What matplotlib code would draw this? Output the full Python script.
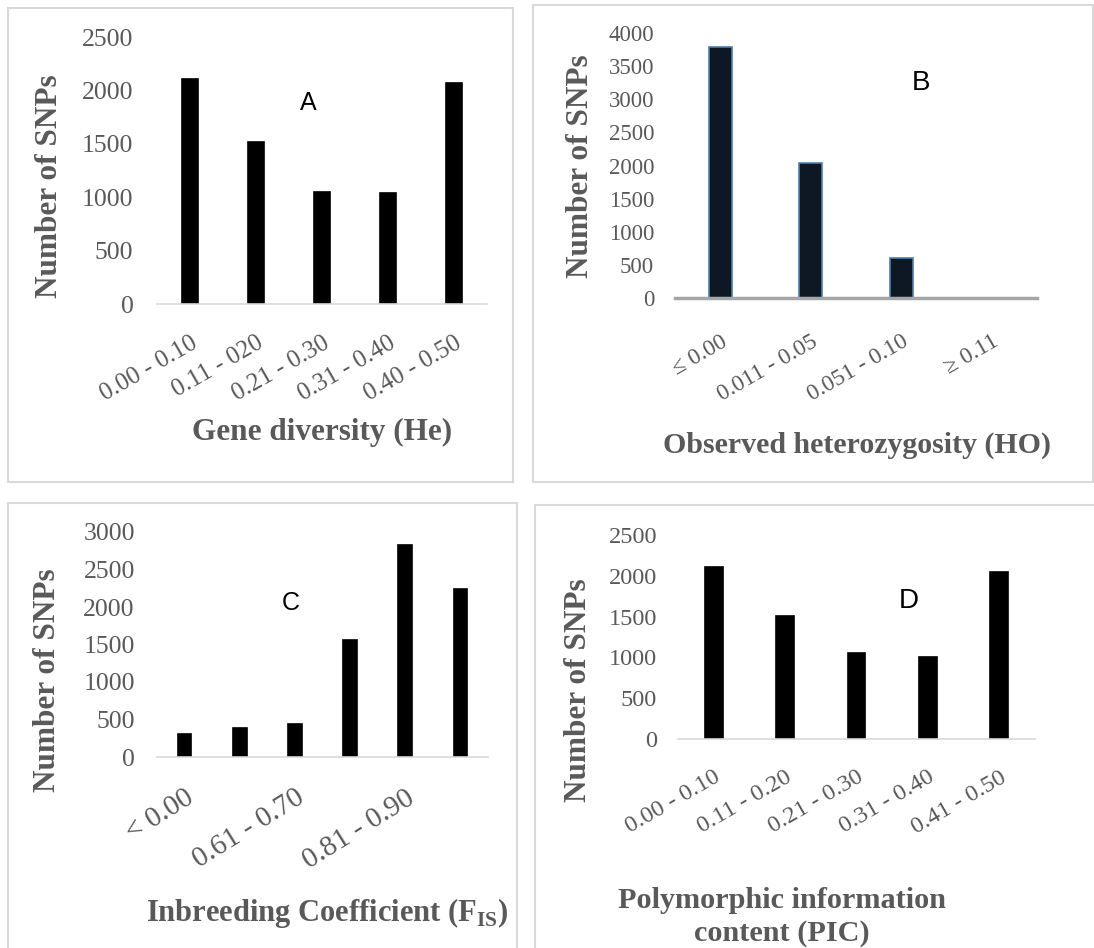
import matplotlib.pyplot as plt
from matplotlib.patches import Rectangle

W, H = 1094, 948

# A - gene diversity (He)
he_bins = ["0.00 - 0.10", "0.11 - 020", "0.21 - 0.30", "0.31 - 0.40", "0.40 - 0.50"]
he_counts = [2104, 1517, 1046, 1039, 2072]

# B - observed heterozygosity (HO)
ho_bins = ["\u2264 0.00", "0.011 - 0.05", "0.051 - 0.10", "\u2265 0.11"]
ho_counts = [3793, 2033, 609, 0]

# C - inbreeding coefficient, only every other label is printed in the original
fis_bins = ["< 0.00", "", "0.61 - 0.70", "", "0.81 - 0.90", ""]
fis_counts = [311, 382, 444, 1556, 2822, 2236]

# D - polymorphic information content
pic_bins = ["0.00 - 0.10", "0.11 - 0.20", "0.21 - 0.30", "0.31 - 0.40", "0.41 - 0.50"]
pic_counts = [2104, 1513, 1052, 1011, 2043]

SERIF = ["Liberation Serif", "DejaVu Serif"]
GREY = "#595959"

plt.rcParams["mathtext.fontset"] = "custom"
plt.rcParams["mathtext.rm"] = "Liberation Serif"
plt.rcParams["mathtext.bf"] = "Liberation Serif:bold"

fig = plt.figure(figsize=(W / 100, H / 100), dpi=100)


def fx(x):
    return x / W


def fy(y):
    return 1 - y / H


def panel_box(x0, y0, x1, y1):
    fig.patches.append(Rectangle((fx(x0), fy(y1)), fx(x1 - x0), (y1 - y0) / H,
                                 transform=fig.transFigure, fill=False,
                                 edgecolor="#d9d9d9", lw=1.5))


def bar_panel(rect, cats, vals, ymax, ystep, ytick_fs, xtick_fs, ypad, xpad=16, rot=30,
              face="black", edge="black", base_col="#d9d9d9", base_lw=1.2):
    x0, x1, ytop, ybot = rect
    ax = fig.add_axes([fx(x0), fy(ybot), fx(x1 - x0), (ybot - ytop) / H])
    xs = range(len(vals))
    ax.bar(xs, vals, width=0.25, color=face, edgecolor=edge, linewidth=1.2, zorder=3)
    ax.set_xlim(-0.5, len(vals) - 0.5)
    ax.set_ylim(0, ymax)
    ax.set_yticks(range(0, ymax + 1, ystep))
    ax.set_xticks(list(xs))
    ax.set_xticklabels(cats, rotation=rot, ha="right", rotation_mode="anchor",
                       fontsize=xtick_fs, color=GREY, family=SERIF)
    for lab in ax.get_yticklabels():
        lab.set_family(SERIF)
    ax.tick_params(axis="y", length=0, pad=ypad, labelsize=ytick_fs, labelcolor=GREY)
    ax.tick_params(axis="x", length=0, pad=xpad)
    for s in ["top", "right", "left"]:
        ax.spines[s].set_visible(False)
    ax.spines["bottom"].set_color(base_col)
    ax.spines["bottom"].set_linewidth(base_lw)
    ax.spines["bottom"].set_zorder(4)
    ax.patch.set_alpha(0)
    return ax


panel_box(8, 8, 513, 482)
panel_box(533, 5, 1093, 482)
panel_box(8, 503, 517, 960)
panel_box(535, 505, 1100, 960)

bar_panel((157, 487, 37, 304), he_bins, he_counts, 2500, 500, 18.5, 18, 17, xpad=20)
bar_panel((675, 1037, 33, 298), ho_bins, ho_counts, 4000, 500, 16.5, 16.8, 15, xpad=24,
          face="#0e1824", edge="#4f7fae", base_col="#a6a6a6", base_lw=2.5)
bar_panel((157, 488, 532, 757), fis_bins, fis_counts, 3000, 500, 18.5, 21, 16, xpad=20, rot=32)
bar_panel((678, 1035, 535, 739), pic_bins, pic_counts, 2500, 500, 17.5, 17.6, 15, xpad=20)

# y axis titles
for x, yc in [(50, 186), (580, 166), (48, 680), (578, 690)]:
    fig.text(fx(x), fy(yc), "Number of SNPs", rotation=90, ha="center", va="center",
             fontsize=22.5, fontweight="bold", color=GREY, family=SERIF)

# x axis titles
fig.text(fx(322), fy(432), "Gene diversity (He)", ha="center", va="center",
         fontsize=22.5, fontweight="bold", color=GREY, family=SERIF)
fig.text(fx(857), fy(445), "Observed heterozygosity (HO)", ha="center", va="center",
         fontsize=21.5, fontweight="bold", color=GREY, family=SERIF)
fig.text(fx(327), fy(913), r"Inbreeding Coefficient (F$_{\mathbf{IS}}$)", ha="center",
         va="center", fontsize=22, fontweight="bold", color=GREY, family=SERIF)
fig.text(fx(782), fy(917), "Polymorphic information\ncontent (PIC)", ha="center",
         va="center", fontsize=21.8, fontweight="bold", color=GREY, family=SERIF,
         linespacing=1.25)

# panel letters
for x, y, s, fs in [(308, 103, "A", 18), (921, 83, "B", 20), (291, 603, "C", 18),
                    (909, 601, "D", 20)]:
    fig.text(fx(x), fy(y), s, ha="center", va="center", fontsize=fs,
             color="black", family=["Liberation Sans", "DejaVu Sans"])

fig.savefig("out.png", dpi=100)
